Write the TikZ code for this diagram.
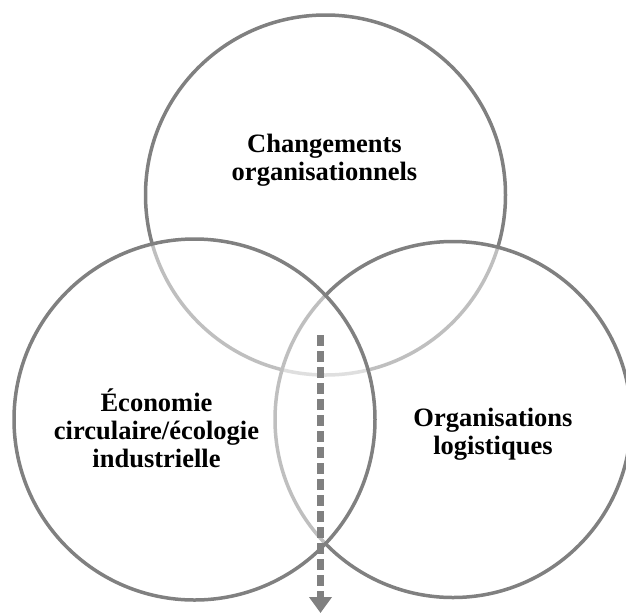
\documentclass[tikz,border=0pt]{standalone}
\usepackage{fontspec}
\setmainfont{Liberation Serif}
\usetikzlibrary{arrows.meta}
\definecolor{ringgray}{RGB}{128,128,128}
\tikzset{
	ring/.style = {circle, draw = ringgray, line width = 3.5pt, fill = white, fill opacity = 0.5, inner sep = 0pt},
	txt/.style = {align = center, text = black, font = \fontsize{26.5}{28}\selectfont\bfseries},
	flow/.style = {draw = ringgray, line width = 6.5pt, dash pattern = on 11pt off 5pt,
		-{Triangle[width = 22pt, length = 16pt]}}
}
\begin{document}
\begin{tikzpicture}[x = 1pt, y = -1pt]
			\useasboundingbox (0,0) rectangle (626,614);
			\node[ring, minimum size = 360pt] (orga) at (325.5,195) {};
			\node[ring, minimum size = 356pt] (logi) at (453,419.5) {};
			\node[ring, minimum size = 361pt] (eco) at (194.5,419.5) {};
			\coordinate (flowStart) at (320.5,335);
			\coordinate (flowEnd) at (320.5,613);
			\draw[flow] (flowStart) -- (flowEnd);
			\node[txt] (orgaText) at (324.5,160.7) {Changements\\organisationnels};
			\node[txt] (ecoText) at (156.5,428) {Économie\\circulaire/écologie\\industrielle};
			\node[txt] (logiText) at (493,434) {Organisations\\logistiques};
		\end{tikzpicture}
\end{document}
